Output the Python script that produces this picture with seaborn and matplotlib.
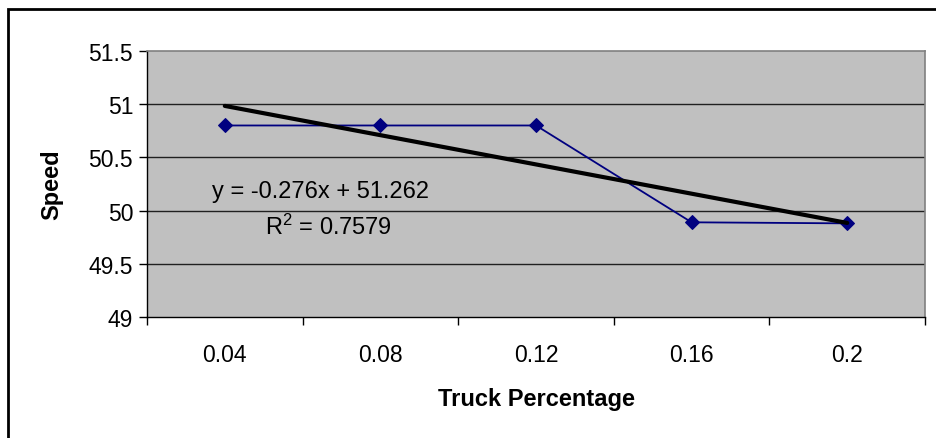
import numpy as np
import matplotlib
matplotlib.use('Agg')
from matplotlib import pyplot as plt
from matplotlib.patches import Rectangle
import pandas as pd
import seaborn as sns

# chart values
truck_pct = ['0.04', '0.08', '0.12', '0.16', '0.2']
speed = [50.8, 50.8, 50.8, 49.89, 49.88]
equation = 'y = -0.276x + 51.262'
r_squared = '$\\mathregular{R^2}$ = 0.7579'

df = pd.DataFrame({'pos': np.arange(1, len(truck_pct) + 1), 'Speed': speed})

sns.set_style('white')
plt.rcParams['font.family'] = ['Liberation Sans', 'DejaVu Sans']
plt.rcParams['text.color'] = 'black'
plt.rcParams['axes.labelcolor'] = 'black'
plt.rcParams['xtick.color'] = 'black'
plt.rcParams['ytick.color'] = 'black'

fig = plt.figure(figsize=(9.36, 4.39), dpi=100)
ax = fig.add_axes([147 / 936, 1 - 318 / 439, (925 - 147) / 936, (318 - 52) / 439])
ax.set_facecolor('#C0C0C0')

# gridlines
for g in [49.5, 50, 50.5, 51]:
    ax.axhline(g, color='#202020', lw=1, zorder=1)

sns.lineplot(data=df, x='pos', y='Speed', ax=ax, color='#000080', lw=1.3,
             marker='D', markersize=7.5, markeredgecolor='#000080', zorder=3)
sns.regplot(data=df, x='pos', y='Speed', ax=ax, scatter=False, ci=None,
            truncate=True, color='black', line_kws={'lw': 3, 'zorder': 4})

ax.set_xlim(0.5, 5.5)
ax.set_ylim(49, 51.5)
ax.set_yticks([49, 49.5, 50, 50.5, 51, 51.5])
ax.set_yticklabels(['49', '49.5', '50', '50.5', '51', '51.5'], fontsize=16.5)
ax.set_xticks(np.arange(0.5, 6, 1))
ax.set_xticklabels([])
ax.set_xticks(df['pos'], labels=truck_pct, minor=True, fontsize=16.5)
ax.tick_params(axis='x', which='major', direction='out', length=6, width=1, color='black', bottom=True)
ax.tick_params(axis='x', which='minor', length=0, pad=19)
ax.tick_params(axis='y', direction='out', length=6, width=1, color='black', left=True, pad=4)

for s in ['top', 'right']:
    ax.spines[s].set_color('#808080')
    ax.spines[s].set_linewidth(1.2)
for s in ['left', 'bottom']:
    ax.spines[s].set_color('black')
    ax.spines[s].set_linewidth(1)

ax.set_xlabel('Truck Percentage', fontsize=17, fontweight='bold')
ax.set_ylabel('Speed', fontsize=17, fontweight='bold')
ax.xaxis.set_label_coords(0.5, -0.265)
ax.yaxis.set_label_coords(-0.108, 0.5)

ax.text(0.92, 50.18, equation, fontsize=17, ha='left', va='center', zorder=5)
ax.text(1.26, 49.855, r_squared, fontsize=17, ha='left', va='center', zorder=5)

# outer chart border (top and left visible)
fig.patches.append(Rectangle((8 / 936, -0.1), 1.2, 1 - 10 / 439 + 0.1,
                             transform=fig.transFigure, fill=False,
                             edgecolor='black', lw=2))

fig.savefig('out.png', dpi=100)
